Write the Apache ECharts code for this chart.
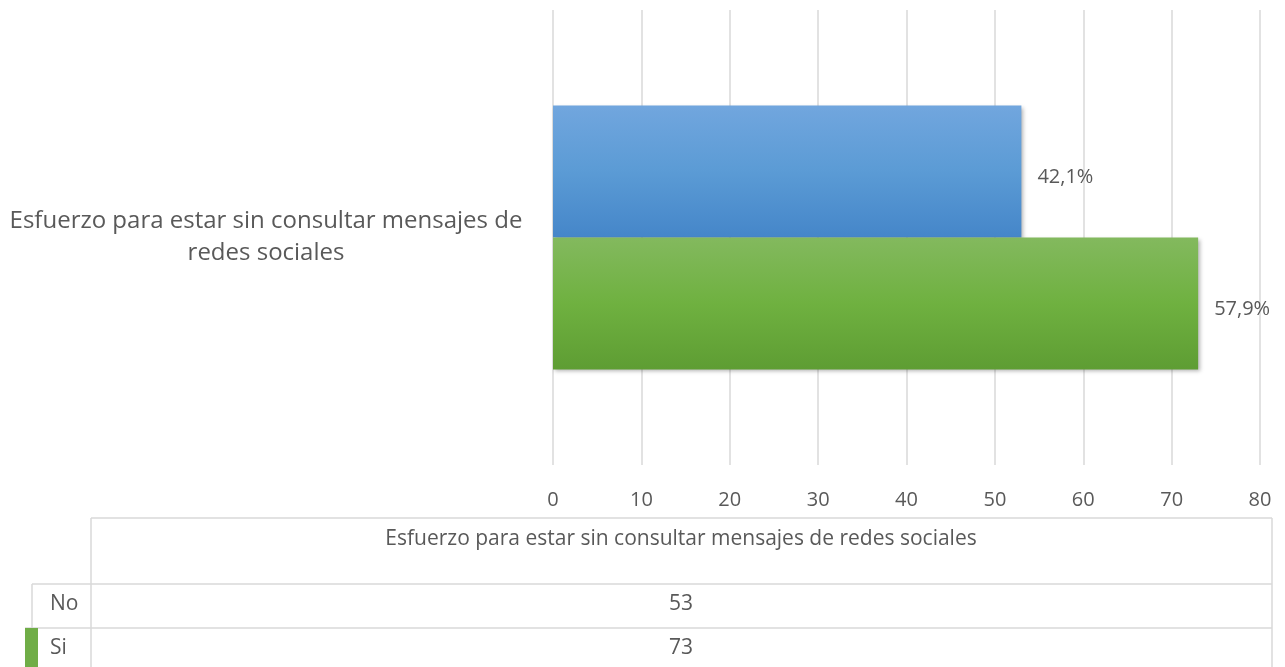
<!DOCTYPE html>
<html>
<head>
<meta charset="utf-8">
<script src="https://cdn.jsdelivr.net/npm/echarts@6/dist/echarts.min.js"></script>
<style>
html,body{margin:0;padding:0;background:#fff;}
#chart{width:1285px;height:667px;}
</style>
</head>
<body>
<div id="chart"></div>
<script>
var categories = ['Esfuerzo para estar sin consultar mensajes de redes sociales'];
var categoryLabel = 'Esfuerzo para estar sin consultar mensajes de\nredes sociales';
var seriesNames = ['No', 'Si'];
var noValues = [53];
var siValues = [73];
var xTicks = [0, 80, 10]; // min, max, interval

var textColor = '#595959';
var lineColor = '#d9d9d9';
var fontFamily = '"Open Sans", "Noto Sans", sans-serif';

var chart = echarts.init(document.getElementById('chart'));

var total = noValues[0] + siValues[0];
var pctLabel = function (params) {
    return (params.value / total * 100).toFixed(1).replace('.', ',') + '%';
};

var blueFill = new echarts.graphic.LinearGradient(0, 0, 0, 1, [
    {offset: 0, color: '#71a6de'},
    {offset: 0.5, color: '#5b9bd5'},
    {offset: 1, color: '#4586c9'}
]);
var greenFill = new echarts.graphic.LinearGradient(0, 0, 0, 1, [
    {offset: 0, color: '#83b95e'},
    {offset: 0.5, color: '#6fb140'},
    {offset: 1, color: '#5e9d33'}
]);
var barShadow = {
    shadowBlur: 4,
    shadowOffsetX: 2,
    shadowOffsetY: 2,
    shadowColor: 'rgba(0,0,0,0.3)'
};
var barLabel = {
    show: true,
    position: 'right',
    distance: 16,
    color: textColor,
    fontSize: 20,
    formatter: pctLabel,
    offset: [0, 6]
};

// tabla de datos debajo del eje
var colMid = 681;
var tableFont = '21px ' + fontFamily;
var tableLines = [
    [91, 518, 1272, 518],
    [32, 584, 1272, 584],
    [25, 628, 1272, 628],
    [91, 518, 91, 667],
    [32, 584, 32, 628],
    [1272, 518, 1272, 667]
];
var graphics = [];
tableLines.forEach(function (l) {
    graphics.push({
        type: 'line',
        shape: {x1: l[0], y1: l[1], x2: l[2], y2: l[3]},
        style: {stroke: lineColor, lineWidth: 1.5}
    });
});
graphics.push({
    type: 'rect',
    shape: {x: 25, y: 628, width: 13, height: 39},
    style: {fill: '#70ad47'}
});
graphics.push({
    type: 'text', x: colMid, y: 539,
    style: {text: categories[0], fill: textColor, font: tableFont, align: 'center', verticalAlign: 'middle'}
});
var rowY = [604, 648];
var rowValues = [noValues[0], siValues[0]];
seriesNames.forEach(function (name, i) {
    graphics.push({
        type: 'text', x: 50, y: rowY[i],
        style: {text: name, fill: textColor, font: tableFont, align: 'left', verticalAlign: 'middle'}
    });
    graphics.push({
        type: 'text', x: colMid, y: rowY[i],
        style: {text: String(rowValues[i]), fill: textColor, font: tableFont, align: 'center', verticalAlign: 'middle'}
    });
});

option = {
    backgroundColor: '#fff',
    animation: false,
    textStyle: {fontFamily: fontFamily},
    grid: {
        left: 553,
        right: 25,
        top: 10,
        bottom: 202
    },
    xAxis: {
        type: 'value',
        min: xTicks[0],
        max: xTicks[1],
        interval: xTicks[2],
        axisLine: {show: false},
        axisTick: {show: false},
        axisLabel: {color: textColor, fontSize: 20, margin: 25},
        splitLine: {lineStyle: {color: lineColor, width: 1.5}}
    },
    yAxis: {
        type: 'category',
        inverse: true,
        data: categories,
        axisLine: {show: false},
        axisTick: {show: false},
        axisLabel: {
            color: textColor,
            fontSize: 24,
            lineHeight: 32,
            align: 'center',
            margin: 287,
            formatter: function () { return categoryLabel; }
        }
    },
    series: [
        {
            name: seriesNames[0],
            type: 'bar',
            data: noValues,
            barGap: '0%',
            barCategoryGap: '42%',
            itemStyle: Object.assign({color: blueFill}, barShadow),
            label: barLabel
        },
        {
            name: seriesNames[1],
            type: 'bar',
            data: siValues,
            barGap: '0%',
            barCategoryGap: '42%',
            itemStyle: Object.assign({color: greenFill}, barShadow),
            label: barLabel
        }
    ],
    graphic: graphics
};
chart.setOption(option);
</script>
</body>
</html>
